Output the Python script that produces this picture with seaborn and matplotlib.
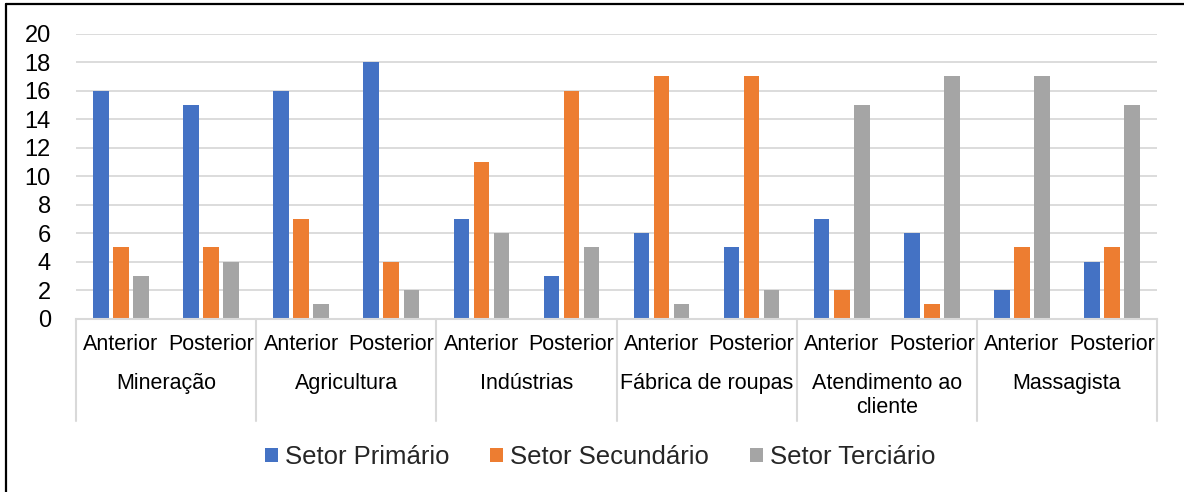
import matplotlib
matplotlib.use("Agg")
import matplotlib.pyplot as plt
import matplotlib.transforms as mtransforms
from matplotlib.lines import Line2D
import pandas as pd
import seaborn as sns

# Data
categories = ["Mineração", "Agricultura", "Indústrias", "Fábrica de roupas",
              "Atendimento ao\ncliente", "Massagista"]
moments = ["Anterior", "Posterior"]
sectors = ["Setor Primário", "Setor Secundário", "Setor Terciário"]
primario = [16, 15, 16, 18, 7, 3, 6, 5, 7, 6, 2, 4]
secundario = [5, 5, 7, 4, 11, 16, 17, 17, 2, 1, 5, 5]
terciario = [3, 4, 1, 2, 6, 5, 1, 2, 15, 17, 17, 15]
colors = ["#4472C4", "#ED7D31", "#A5A5A5"]
y_ticks = [0, 2, 4, 6, 8, 10, 12, 14, 16, 18, 20]

slots = [f"{c}|{m}" for c in categories for m in moments]
rows = []
for setor, vals in zip(sectors, [primario, secundario, terciario]):
    for slot, v in zip(slots, vals):
        rows.append({"slot": slot, "setor": setor, "valor": v})
df = pd.DataFrame(rows)

sns.set_theme(style="white")
plt.rcParams["font.family"] = ["Liberation Sans", "DejaVu Sans"]

fig = plt.figure(figsize=(11.84, 4.92), dpi=100)
ax = fig.add_axes([76 / 1184, 1 - 318.5 / 492, (1157 - 76) / 1184, (318.5 - 33.7) / 492])

sns.barplot(data=df, x="slot", y="valor", hue="setor", order=slots,
            hue_order=sectors, palette=colors, width=0.667, gap=0.22,
            errorbar=None, saturation=1, linewidth=0, ax=ax)

ax.set_xlim(-0.5, len(slots) - 0.5)
ax.set_ylim(0, 20)
ax.set_yticks(y_ticks)
ax.set_xlabel("")
ax.set_ylabel("")
ax.yaxis.grid(True, color="#D9D9D9", lw=1.3)
ax.set_axisbelow(True)
for side in ["left", "right", "top"]:
    ax.spines[side].set_visible(False)
ax.spines["bottom"].set_color("#D9D9D9")
ax.spines["bottom"].set_linewidth(1.5)
ax.tick_params(axis="both", length=0)
ax.tick_params(axis="y", labelsize=17, pad=18, labelcolor="#000000")
ax.set_xticks(range(len(slots)))
ax.set_xticklabels(moments * len(categories), fontsize=15.5, color="#000000")
ax.tick_params(axis="x", pad=11)

# Category labels and separators below the axis
trans = mtransforms.blended_transform_factory(ax.transData, ax.transAxes)
for i, cat in enumerate(categories):
    ax.text(2 * i + 0.5, -0.193, cat, transform=trans, ha="center", va="top",
            fontsize=15.5, linespacing=1.15, color="#000000")
for i in range(len(categories) + 1):
    xb = 2 * i - 0.5
    ax.plot([xb, xb], [0, -0.36], transform=trans, clip_on=False,
            color="#D9D9D9", lw=1.5)

# Legend below
handles, labels = ax.get_legend_handles_labels()
if ax.get_legend() is not None:
    ax.get_legend().remove()
fig.legend(handles, labels, loc="center", bbox_to_anchor=(600 / 1184, 1 - 457 / 492),
           ncol=3, frameon=False, handlelength=0.5, handleheight=0.5,
           handletextpad=0.27, columnspacing=1.6, prop={"size": 18.5})

# Outer frame
fig.add_artist(Line2D([5.5 / 1184, 5.5 / 1184], [0, 1 - 4 / 492],
                      transform=fig.transFigure, color="black", lw=1.6))
fig.add_artist(Line2D([5.5 / 1184, 1], [1 - 4 / 492, 1 - 4 / 492],
                      transform=fig.transFigure, color="black", lw=1.6))

fig.savefig("out.png", dpi=100)
